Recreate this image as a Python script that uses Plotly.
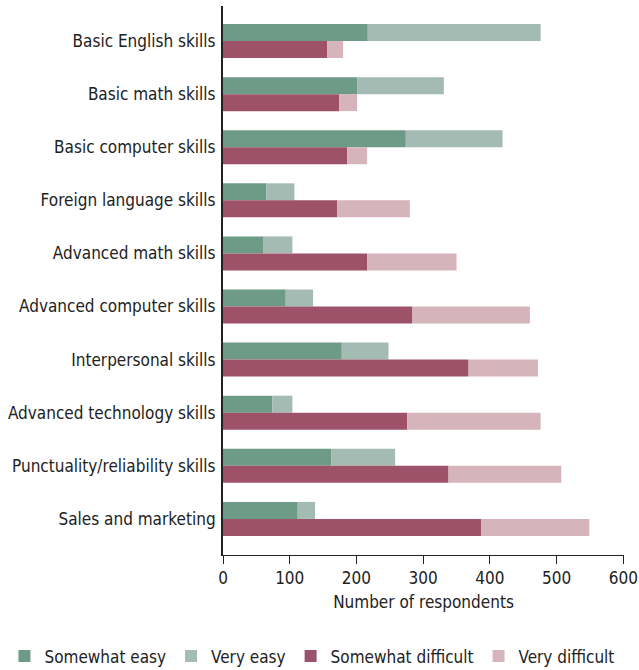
import plotly.graph_objects as go

categories = [
    "Basic English skills", "Basic math skills", "Basic computer skills",
    "Foreign language skills", "Advanced math skills", "Advanced computer skills",
    "Interpersonal skills", "Advanced technology skills",
    "Punctuality/reliability skills", "Sales and marketing",
]
somewhat_easy = [217, 201, 274, 65, 60, 94, 178, 74, 162, 112]
very_easy = [259, 130, 145, 42, 44, 41, 70, 30, 96, 26]
somewhat_difficult = [156, 174, 186, 171, 216, 284, 368, 276, 338, 387]
very_difficult = [24, 27, 30, 109, 134, 176, 104, 200, 169, 162]

xticks = [0, 100, 200, 300, 400, 500, 600]

FONT = "DejaVu Sans Condensed, sans-serif"
C_SE = "#6E9A88"
C_VE = "#A3BBB2"
C_SD = "#9E5269"
C_VD = "#D5B4BB"

bw = 0.32
fig = go.Figure()
fig.add_trace(go.Bar(name="Somewhat easy", y=categories, x=somewhat_easy, orientation="h",
                     marker_color=C_SE, width=bw, offset=-bw, marker_line_width=0))
fig.add_trace(go.Bar(name="Very easy", y=categories, x=very_easy, base=somewhat_easy,
                     orientation="h", marker_color=C_VE, width=bw, offset=-bw, marker_line_width=0))
fig.add_trace(go.Bar(name="Somewhat difficult", y=categories, x=somewhat_difficult, orientation="h",
                     marker_color=C_SD, width=bw, offset=0, marker_line_width=0))
fig.add_trace(go.Bar(name="Very difficult", y=categories, x=very_difficult, base=somewhat_difficult,
                     orientation="h", marker_color=C_VD, width=bw, offset=0, marker_line_width=0))

fig.update_layout(
    barmode="overlay",
    width=639, height=670,
    margin=dict(l=223, r=15, t=6, b=115, autoexpand=False),
    paper_bgcolor="white", plot_bgcolor="white",
    font=dict(family=FONT, size=17, color="#222"),
    showlegend=True,
    legend=dict(orientation="h", xref="paper", yref="paper",
                x=-0.545, y=-0.152, xanchor="left", yanchor="top",
                font=dict(size=17, color="#222"), traceorder="normal",
                itemwidth=30, tracegroupgap=0),
    xaxis=dict(range=[0, 601], tickvals=xticks, ticks="outside", ticklen=8,
               tickcolor="#222", showline=True, linecolor="#222", linewidth=1,
               showgrid=False, zeroline=False,
               title=dict(text="Number of respondents", standoff=8,
                          font=dict(size=17, color="#222")),
               tickfont=dict(size=17, color="#222")),
    yaxis=dict(range=[9.68, -0.66], showline=True, linecolor="#222", linewidth=2,
               showgrid=False, ticks="", ticklabelstandoff=2,
               tickfont=dict(size=17, color="#222")),
)

fig.write_html("out.html")
